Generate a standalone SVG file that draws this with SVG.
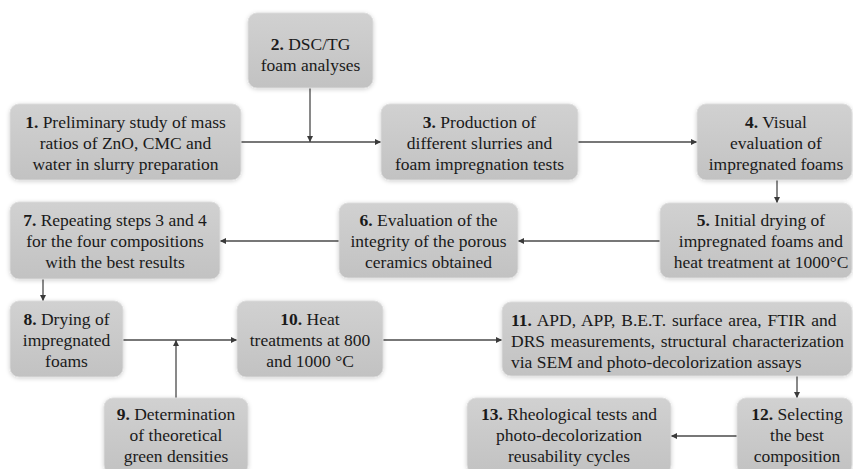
<svg xmlns="http://www.w3.org/2000/svg" width="853" height="469" viewBox="0 0 853 469">
<defs>
<linearGradient id="g" x1="0" y1="0" x2="0" y2="1">
<stop offset="0" stop-color="#d1d1d1"/>
<stop offset="1" stop-color="#c2c2c2"/>
</linearGradient>
<filter id="sh" x="-10%" y="-20%" width="120%" height="140%">
<feDropShadow dx="0" dy="1" stdDeviation="2" flood-color="#000" flood-opacity="0.18"/>
</filter>
<marker id="ah" markerUnits="userSpaceOnUse" markerWidth="7" markerHeight="6" refX="6" refY="3" orient="auto">
<path d="M0,0 L6,3 L0,6 z" fill="#3a3a3a"/>
</marker>
</defs>
<style>
.box{fill:url(#g);stroke:#dcdcdc;stroke-width:1;filter:url(#sh)}
text{font-family:'Liberation Serif','Times New Roman',Times,Tinos,'Noto Serif','DejaVu Serif',FreeSerif,serif;font-size:17.5px;fill:#1a1a1a}
.t{text-anchor:middle}
.l{text-anchor:start}
.b{font-weight:bold}
.c{fill:none;stroke:#4a4a4a;stroke-width:1.3;marker-end:url(#ah)}
</style>
<rect width="853" height="469" fill="#ffffff"/>
<g id="connectors">
<line class="c" x1="241" y1="142" x2="381" y2="142"/>
<line class="c" x1="310" y1="88" x2="310" y2="142"/>
<line class="c" x1="578" y1="142" x2="697" y2="142"/>
<line class="c" x1="777" y1="180" x2="777" y2="203"/>
<line class="c" x1="660" y1="241" x2="518" y2="241"/>
<line class="c" x1="339" y1="241" x2="220" y2="241"/>
<line class="c" x1="43" y1="279" x2="43" y2="301"/>
<line class="c" x1="123" y1="340" x2="237" y2="340"/>
<line class="c" x1="176" y1="398" x2="176" y2="340"/>
<line class="c" x1="383" y1="340" x2="502" y2="340"/>
<line class="c" x1="797" y1="376" x2="797" y2="398"/>
<line class="c" x1="737" y1="436" x2="671" y2="436"/>
</g>
<g id="n1">
<rect class="box" x="10" y="104" width="231" height="76" rx="9"/>
<text class="t" x="125.5" y="128"><tspan class="b">1.</tspan> Preliminary study of mass</text>
<text class="t" x="125.5" y="149">ratios of ZnO, CMC and</text>
<text class="t" x="125.5" y="170">water in slurry preparation</text>
</g>
<g id="n2">
<rect class="box" x="248" y="13" width="125" height="75" rx="9"/>
<text class="t" x="310.5" y="50"><tspan class="b">2.</tspan> DSC/TG</text>
<text class="t" x="310.5" y="71">foam analyses</text>
</g>
<g id="n3">
<rect class="box" x="381" y="104" width="197" height="76" rx="9"/>
<text class="t" x="479.5" y="128"><tspan class="b">3.</tspan> Production of</text>
<text class="t" x="479.5" y="149">different slurries and</text>
<text class="t" x="479.5" y="170">foam impregnation tests</text>
</g>
<g id="n4">
<rect class="box" x="697" y="104" width="155" height="76" rx="9"/>
<text class="t" x="776" y="128"><tspan class="b">4.</tspan> Visual</text>
<text class="t" x="776" y="149">evaluation of</text>
<text class="t" x="776" y="170">impregnated foams</text>
</g>
<g id="n5">
<rect class="box" x="660" y="203" width="192" height="75" rx="9"/>
<text class="t" x="761" y="226"><tspan class="b">5.</tspan> Initial drying of</text>
<text class="t" x="761" y="247">impregnated foams and</text>
<text class="t" x="761" y="268">heat treatment at 1000°C</text>
</g>
<g id="n6">
<rect class="box" x="339" y="203" width="179" height="75" rx="9"/>
<text class="t" x="428.5" y="226"><tspan class="b">6.</tspan> Evaluation of the</text>
<text class="t" x="428.5" y="247">integrity of the porous</text>
<text class="t" x="428.5" y="268">ceramics obtained</text>
</g>
<g id="n7">
<rect class="box" x="10" y="202" width="210" height="77" rx="9"/>
<text class="t" x="115" y="226"><tspan class="b">7.</tspan> Repeating steps 3 and 4</text>
<text class="t" x="115" y="247">for the four compositions</text>
<text class="t" x="115" y="268">with the best results</text>
</g>
<g id="n8">
<rect class="box" x="10" y="301" width="113" height="76" rx="9"/>
<text class="t" x="66.5" y="325"><tspan class="b">8.</tspan> Drying of</text>
<text class="t" x="66.5" y="346">impregnated</text>
<text class="t" x="66.5" y="367">foams</text>
</g>
<g id="n9">
<rect class="box" x="104" y="398" width="144" height="76" rx="9"/>
<text class="t" x="176" y="420"><tspan class="b">9.</tspan> Determination</text>
<text class="t" x="176" y="441">of theoretical</text>
<text class="t" x="176" y="462">green densities</text>
</g>
<g id="n10">
<rect class="box" x="237" y="301" width="146" height="76" rx="9"/>
<text class="t" x="310" y="325"><tspan class="b">10.</tspan> Heat</text>
<text class="t" x="310" y="346">treatments at 800</text>
<text class="t" x="310" y="367">and 1000 °C</text>
</g>
<g id="n11">
<rect class="box" x="502" y="302" width="350" height="74" rx="9"/>
<text class="l" x="511" y="326" word-spacing="1.4"><tspan class="b">11.</tspan> APD, APP, B.E.T. surface area, FTIR and</text>
<text class="l" x="511" y="347" word-spacing="1.2">DRS measurements, structural characterization</text>
<text class="l" x="511" y="368">via SEM and photo-decolorization assays</text>
</g>
<g id="n12">
<rect class="box" x="737" y="398" width="115" height="76" rx="9"/>
<text class="t" x="797" y="420"><tspan class="b">12.</tspan> Selecting</text>
<text class="t" x="797" y="441">the best</text>
<text class="t" x="797" y="462">composition</text>
</g>
<g id="n13">
<rect class="box" x="467" y="398" width="204" height="76" rx="9"/>
<text class="t" x="569" y="420"><tspan class="b">13.</tspan> Rheological tests and</text>
<text class="t" x="569" y="441">photo-decolorization</text>
<text class="t" x="569" y="462">reusability cycles</text>
</g>
</svg>
